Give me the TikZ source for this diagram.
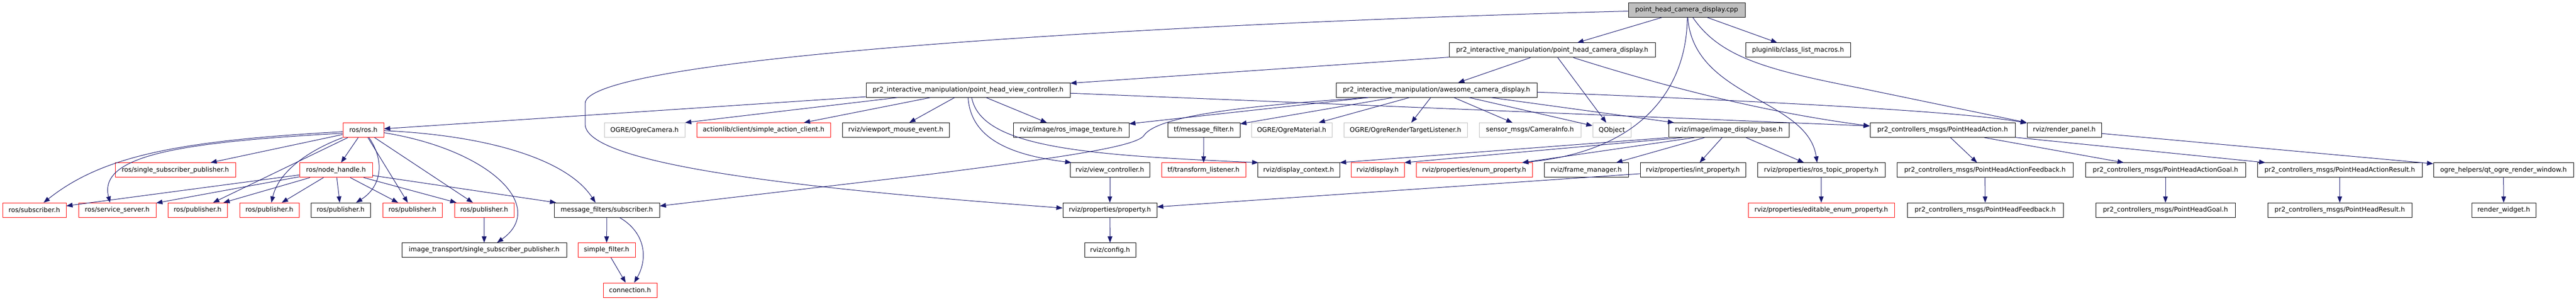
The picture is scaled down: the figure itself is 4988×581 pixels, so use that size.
\documentclass[tikz,border=0pt]{standalone}
\usepackage{fontspec}
\setmainfont{DejaVu Sans}
\usetikzlibrary{arrows.meta,calc}
\definecolor{edgeblue}{HTML}{191970}
\definecolor{nodered}{HTML}{FF0000}
\definecolor{nodegray}{HTML}{BFBFBF}
\newcommand\nodefont{\fontsize{12.55}{15}\selectfont}
\tikzset{
  hnode/.style={draw=black, fill=white, line width=1pt, minimum height=28pt, inner sep=0pt, font=\nodefont},
  rnode/.style={hnode, draw=nodered},
  gnode/.style={hnode, draw=nodegray},
  tnode/.style={hnode, fill=nodegray},
  edge/.style={draw=edgeblue, line width=1pt, -{Triangle[length=12pt,width=9pt]}, fill=none},
}
\begin{document}
\begin{tikzpicture}[x=1pt,y=-1pt]
\useasboundingbox (0,0) rectangle (4988,581);
% row 0
\node[tnode, minimum width=226] (cpp) at (3266,19.5) {point\_head\_camera\_display.cpp};
% row 1
\node[hnode, minimum width=399] (phcd) at (3005.5,96.9) {pr2\_interactive\_manipulation/point\_head\_camera\_display.h};
\node[hnode, minimum width=203] (plugin) at (3481.5,96.9) {pluginlib/class\_list\_macros.h};
% row 2
\node[hnode, minimum width=395] (phvc) at (1874.5,174.2) {pr2\_interactive\_manipulation/point\_head\_view\_controller.h};
\node[hnode, minimum width=389] (awesome) at (2781.5,174.2) {pr2\_interactive\_manipulation/awesome\_camera\_display.h};
% row 3
\node[rnode, minimum width=79] (ros) at (703.5,251.6) {ros/ros.h};
\node[gnode, minimum width=156] (ogrecam) at (1248,251.6) {OGRE/OgreCamera.h};
\node[rnode, minimum width=259] (actionlib) at (1478.5,251.6) {actionlib/client/simple\_action\_client.h};
\node[hnode, minimum width=207] (vme) at (1734.5,251.6) {rviz/viewport\_mouse\_event.h};
\node[hnode, minimum width=224] (rit) at (2074,251.6) {rviz/image/ros\_image\_texture.h};
\node[hnode, minimum width=140] (tfmf) at (2331,251.6) {tf/message\_filter.h};
\node[gnode, minimum width=156] (ogremat) at (2501,251.6) {OGRE/OgreMaterial.h};
\node[gnode, minimum width=239] (ogrertl) at (2721.5,251.6) {OGRE/OgreRenderTargetListener.h};
\node[gnode, minimum width=197] (caminfo) at (2962.5,251.6) {sensor\_msgs/CameraInfo.h};
\node[gnode, minimum width=74] (qobj) at (3121,251.6) {QObject};
\node[hnode, minimum width=233] (idb) at (3347.5,251.6) {rviz/image/image\_display\_base.h};
\node[hnode, minimum width=281] (pha) at (3761.5,251.6) {pr2\_controllers\_msgs/PointHeadAction.h};
\node[hnode, minimum width=144] (rpanel) at (3997,251.6) {rviz/render\_panel.h};
% row 4
\node[rnode, minimum width=233] (ssp) at (339.5,328.9) {ros/single\_subscriber\_publisher.h};
\node[rnode, minimum width=141] (nh) at (650.5,328.9) {ros/node\_handle.h};
\node[hnode, minimum width=154] (vc) at (2149,328.9) {rviz/view\_controller.h};
\node[rnode, minimum width=163] (tftl) at (2330.5,328.9) {tf/transform\_listener.h};
\node[hnode, minimum width=159] (dctx) at (2514.5,328.9) {rviz/display\_context.h};
\node[rnode, minimum width=103] (disp) at (2667.5,328.9) {rviz/display.h};
\node[rnode, minimum width=225] (enump) at (2854.5,328.9) {rviz/properties/enum\_property.h};
\node[hnode, minimum width=163] (fm) at (3071.5,328.9) {rviz/frame\_manager.h};
\node[hnode, minimum width=204] (intp) at (3278,328.9) {rviz/properties/int\_property.h};
\node[hnode, minimum width=247] (rtp) at (3526.5,328.9) {rviz/properties/ros\_topic\_property.h};
\node[hnode, minimum width=341] (phaf) at (3843.5,328.9) {pr2\_controllers\_msgs/PointHeadActionFeedback.h};
\node[hnode, minimum width=310] (phag) at (4193,328.9) {pr2\_controllers\_msgs/PointHeadActionGoal.h};
\node[hnode, minimum width=319] (phar) at (4530.5,328.9) {pr2\_controllers\_msgs/PointHeadActionResult.h};
\node[hnode, minimum width=271] (qtogre) at (4847.5,328.9) {ogre\_helpers/qt\_ogre\_render\_window.h};
% row 5
\node[rnode, minimum width=123] (sub) at (66.5,406.3) {ros/subscriber.h};
\node[rnode, minimum width=150] (ss) at (227,406.3) {ros/service\_server.h};
\node[rnode, minimum width=115] (pub1) at (382.5,406.3) {ros/publisher.h};
\node[rnode, minimum width=115] (pub2) at (521.5,406.3) {ros/publisher.h};
\node[hnode, minimum width=115] (pub3) at (659.5,406.3) {ros/publisher.h};
\node[rnode, minimum width=115] (pub4) at (798.5,406.3) {ros/publisher.h};
\node[rnode, minimum width=115] (pub5) at (937.5,406.3) {ros/publisher.h};
\node[hnode, minimum width=204] (mfsub) at (1175,406.3) {message\_filters/subscriber.h};
\node[hnode, minimum width=182] (prop) at (2149,406.3) {rviz/properties/property.h};
\node[rnode, minimum width=283] (eep) at (3526.5,406.3) {rviz/properties/editable\_enum\_property.h};
\node[hnode, minimum width=302] (phf) at (3844,406.3) {pr2\_controllers\_msgs/PointHeadFeedback.h};
\node[hnode, minimum width=270] (phg) at (4193,406.3) {pr2\_controllers\_msgs/PointHeadGoal.h};
\node[hnode, minimum width=279] (phr) at (4530.5,406.3) {pr2\_controllers\_msgs/PointHeadResult.h};
\node[hnode, minimum width=124] (rw) at (4848,406.3) {render\_widget.h};
% row 6
\node[hnode, minimum width=319] (itssp) at (937.5,483.7) {image\_transport/single\_subscriber\_publisher.h};
\node[rnode, minimum width=111] (sf) at (1174.5,483.7) {simple\_filter.h};
\node[hnode, minimum width=99] (config) at (2149.5,483.7) {rviz/config.h};
% row 7
\node[rnode, minimum width=104] (conn) at (1220,561) {connection.h};

% edges from cpp
\draw[edge] (cpp) -- (phcd);
\draw[edge] (cpp) -- (plugin);
\draw[edge] ($(cpp.west)+(0,2)$) .. controls (2250,45) and (1133,110) .. (1133,200) -- (1133,240) .. controls (1133,330) and (1700,375) .. ($(prop.west)+(0,-4)$);
\draw[edge] ($(cpp.south)+(1,0)$) .. controls (3267,150) and (3200,290) .. ($(enump.north)+(93,0)$);
\draw[edge] ($(cpp.south)+(2,0)$) .. controls (3280,190) and (3500,190) .. ($(rtp.north)+(-8,0)$);
\draw[edge] ($(cpp.south)+(12,0)$) .. controls (3330,110) and (3420,135) .. (3600,170) -- (rpanel.north west);
% from point_head_camera_display.h
\draw[edge] (phcd) -- (phvc);
\draw[edge] (phcd) -- (awesome);
\draw[edge] (phcd) -- (qobj);
\draw[edge] ($(phcd.south)+(41,0)$) .. controls (3200,160) and (3400,215) .. ($(pha.west)+(0,-8)$);
% from awesome
\draw[edge] ($(awesome.east)+(0,4)$) .. controls (3400,195) and (3800,215) .. ($(rpanel.north west)+(0,1)$);
\draw[edge] (awesome) -- (rit);
\draw[edge] (awesome) -- (tfmf);
\draw[edge] (awesome) -- (ogremat);
\draw[edge] (awesome) -- (ogrertl);
\draw[edge] (awesome) -- (caminfo);
\draw[edge] (awesome) -- (qobj);
\draw[edge] (awesome) -- (idb);
\draw[edge] ($(awesome.south west)+(63,0)$) .. controls (2400,205) and (2240,225) .. (2215,262) .. controls (2200,284) and (2050,305) .. (1800,337) -- ($(mfsub.east)+(0,-8)$);
% from point_head_view_controller.h
\draw[edge] (phvc) -- (ros);
\draw[edge] ($(phvc.south west)+(61,0)$) -- (ogrecam.north east);
\draw[edge] ($(phvc.south west)+(125,0)$) -- ($(actionlib.north)+(78,0)$);
\draw[edge] (phvc) -- (vme);
\draw[edge] ($(phvc.south west)+(198,0)$) .. controls (1880,270) and (1960,300) .. ($(vc.north west)+(3,0)$);
\draw[edge] ($(phvc.south west)+(205,0)$) .. controls (1900,285) and (2100,300) .. ($(dctx.north west)+(2,0)$);
\draw[edge] ($(phvc.south)+(35,0)$) -- ($(rit.north)+(-47,0)$);
\draw[edge] ($(phvc.east)+(0,6)$) -- ($(pha.west)+(0,-8)$);
% from ros.h
\draw[edge] (ros) -- (nh);
\draw[edge] (ros) -- (ssp);
\draw[edge] (ros) -- (pub1);
\draw[edge] (ros.south west) .. controls (600,290) and (540,330) .. ($(pub2.north)+(4,0)$);
\draw[edge] ($(ros.south)+(11,0)$) .. controls (745,310) and (740,360) .. ($(pub3.north)+(30,0)$);
\draw[edge] (ros) -- (pub4);
\draw[edge] (ros) -- (pub5);
\draw[edge] ($(ros.east)+(0,5)$) .. controls (950,290) and (1060,400) .. ($(itssp.north)+(25,0)$);
\draw[edge] ($(ros.east)+(0,1)$) .. controls (950,262) and (1100,310) .. ($(mfsub.north)+(-22,0)$);
\draw[edge] ($(ros.west)+(0,3)$) .. controls (350,272) and (200,300) .. ($(sub.north)+(18,0)$);
\draw[edge] ($(ros.west)+(0,6)$) .. controls (350,275) and (190,300) .. ($(ss.north)+(-14,0)$);
% from node_handle.h
\draw[edge] (nh) -- (sub);
\draw[edge] (nh) -- (ss);
\draw[edge] (nh) -- (pub1);
\draw[edge] (nh) -- (pub2);
\draw[edge] (nh) -- (pub3);
\draw[edge] (nh) -- (pub4);
\draw[edge] (nh) -- (pub5);
\draw[edge] (nh) -- (mfsub);
% lower left
\draw[edge] (pub5) -- (itssp);
\draw[edge] (mfsub) -- (sf);
\draw[edge] ($(mfsub.south)+(25,0)$) .. controls (1250,450) and (1255,500) .. ($(conn.north)+(8,0)$);
\draw[edge] (sf) -- (conn);
% middle
\draw[edge] (tfmf) -- (tftl);
\draw[edge] (vc) -- (prop);
\draw[edge] (prop) -- (config);
\draw[edge] (intp) -- (prop);
\draw[edge] (rtp) -- (eep);
% from image_display_base.h
\draw[edge] (idb.south west) -- (dctx.north east);
\draw[edge] ($(idb.south west)+(27,0)$) -- (disp.north east);
\draw[edge] ($(idb.south west)+(50,0)$) -- ($(enump.north)+(93,0)$);
\draw[edge] ($(idb.south west)+(70,0)$) -- ($(fm.north)+(58,0)$);
\draw[edge] (idb) -- (intp);
\draw[edge] (idb) -- (rtp);
% right part
\draw[edge] (pha) -- (phaf);
\draw[edge] (pha) -- (phag);
\draw[edge] (pha) -- (phar);
\draw[edge] (rpanel) -- (qtogre);
\draw[edge] (phaf) -- (phf);
\draw[edge] (phag) -- (phg);
\draw[edge] (phar) -- (phr);
\draw[edge] (qtogre) -- (rw);
\end{tikzpicture}
\end{document}
